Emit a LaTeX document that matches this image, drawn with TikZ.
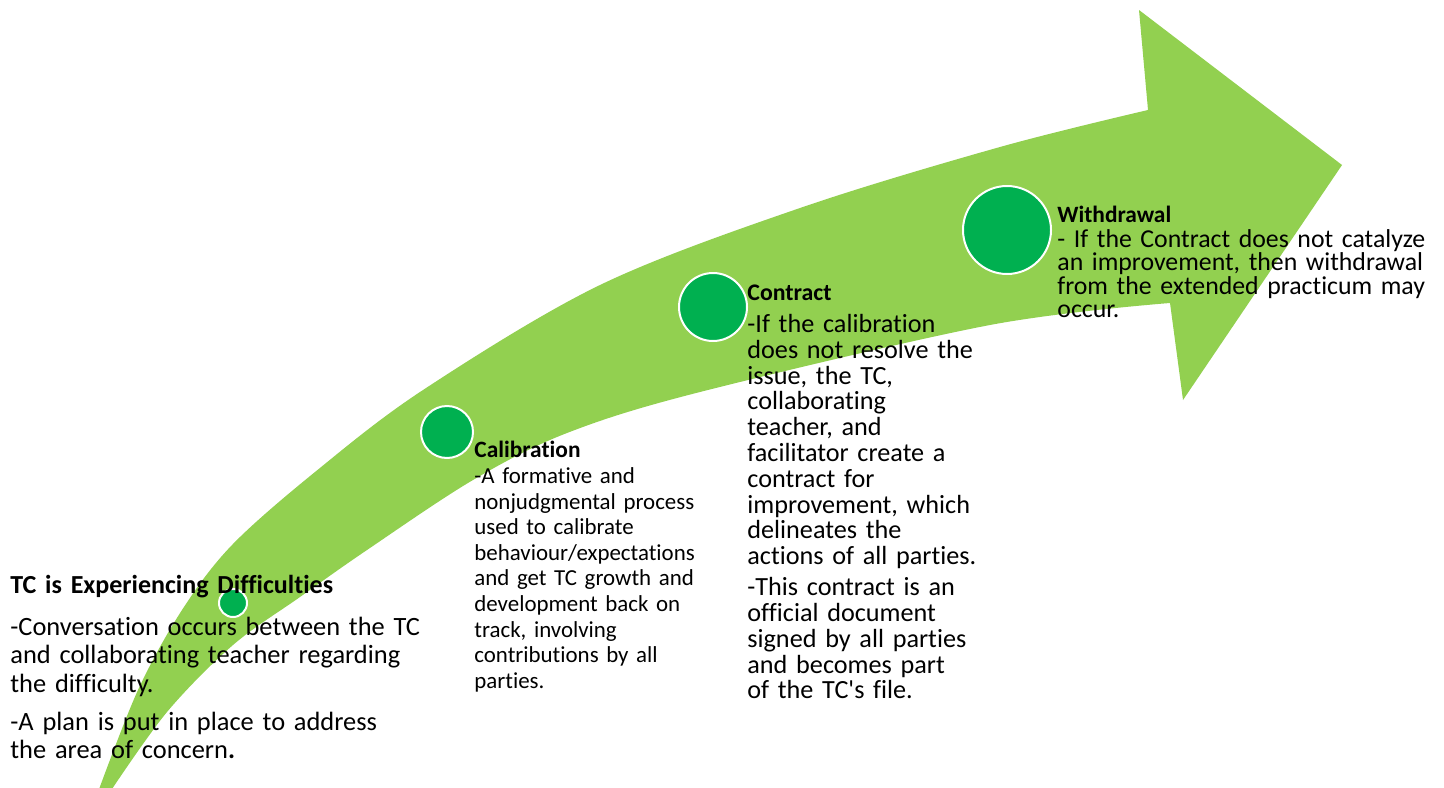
\documentclass[tikz,border=0pt]{standalone}
\usepackage{fontspec}
\setmainfont{Carlito}[Ligatures={NoCommon}]
\usepackage{xcolor}

\definecolor{arrowgreen}{HTML}{92D050}
\definecolor{dotgreen}{HTML}{00B050}
\setlength{\parindent}{0pt}

\tikzset{
  stage/.style={circle, fill=dotgreen, draw=white, line width=1pt, inner sep=0pt},
  stagetext/.style={anchor=north west, inner sep=0pt, align=left, text width=#1,
    execute at begin node={\lineskiplimit=-10pt}},
}

\begin{document}
\begin{tikzpicture}[x=0.5pt, y=-0.5pt]
  \useasboundingbox (0,0) rectangle (1444,787);
  \clip (0,0) rectangle (1444,787);

  % the bent arrow
  \fill[arrowgreen] plot[smooth, tension=0.55] coordinates {(98,792) (138,690) (182,610) (232,545) (315,472) (423,390) (600,285) (800,208) (1000,147) (1148,110)}
    -- (1139,10) -- (1342,165) -- (1183,400) -- (1170,303)
    -- plot[smooth, tension=0.55] coordinates {(1170,303) (990,325) (700,392) (567,433) (473,480) (367,550) (300,597) (233,645) (167,712) (110,792)}
    -- cycle;

  % stages on the arrow
  \node[stage, minimum size=14pt] (difficulty) at (233,603) {};
  \node[stage, minimum size=26pt] (calibration) at (447,432) {};
  \node[stage, minimum size=34pt] (contract) at (713,307) {};
  \node[stage, minimum size=44pt] (withdrawal) at (1007,230) {};

  % texts
  \node[stagetext=225pt, font=\fontsize{13.2}{14.25}\selectfont] (difficultytext) at (10,573) {\rule{0pt}{10pt}{\fontsize{13}{14.25}\selectfont\bfseries TC is Experiencing Difficulties}\\[6.75pt]
    -Conversation occurs between the TC\\
    and collaborating teacher regarding\\
    the difficulty.\\[4.75pt]
    -A plan is put in place to address\\
    the area of concern\textbf{.}};

  \node[stagetext=150pt, font=\fontsize{11.45}{12.8}\selectfont] (calibrationtext) at (474,437) {\rule{0pt}{10pt}{\fontsize{11.7}{12.8}\selectfont\bfseries Calibration}\\[0.2pt]
    -A formative and\\
    nonjudgmental process\\
    used to calibrate\\
    behaviour/expectations\\
    and get TC growth and\\
    development back on\\
    track, involving\\
    contributions by all\\
    parties.};

  \node[stagetext=150pt, font=\fontsize{13.1}{12.9}\selectfont] (contracttext) at (747,280) {\rule{0pt}{10pt}{\fontsize{11.9}{12.9}\selectfont\bfseries Contract}\\[3.1pt]
    -If the calibration\\
    does not resolve the\\
    issue, the TC,\\
    collaborating\\
    teacher, and\\
    facilitator create a\\
    contract for\\
    improvement, which\\
    delineates the\\
    actions of all parties.\\[2.6pt]
    -This contract is an\\
    official document\\
    signed by all parties\\
    and becomes part\\
    of the TC\textquotesingle s file.};

  \node[stagetext=240pt, font=\fontsize{12.9}{11.6}\selectfont] (withdrawaltext) at (1057,202) {\rule{0pt}{10pt}{\fontsize{11.7}{11.6}\selectfont\bfseries Withdrawal}\\[1pt]
    - If the Contract does not catalyze\\
    an improvement, then withdrawal\\
    from the extended practicum may\\
    occur.};
\end{tikzpicture}
\end{document}
